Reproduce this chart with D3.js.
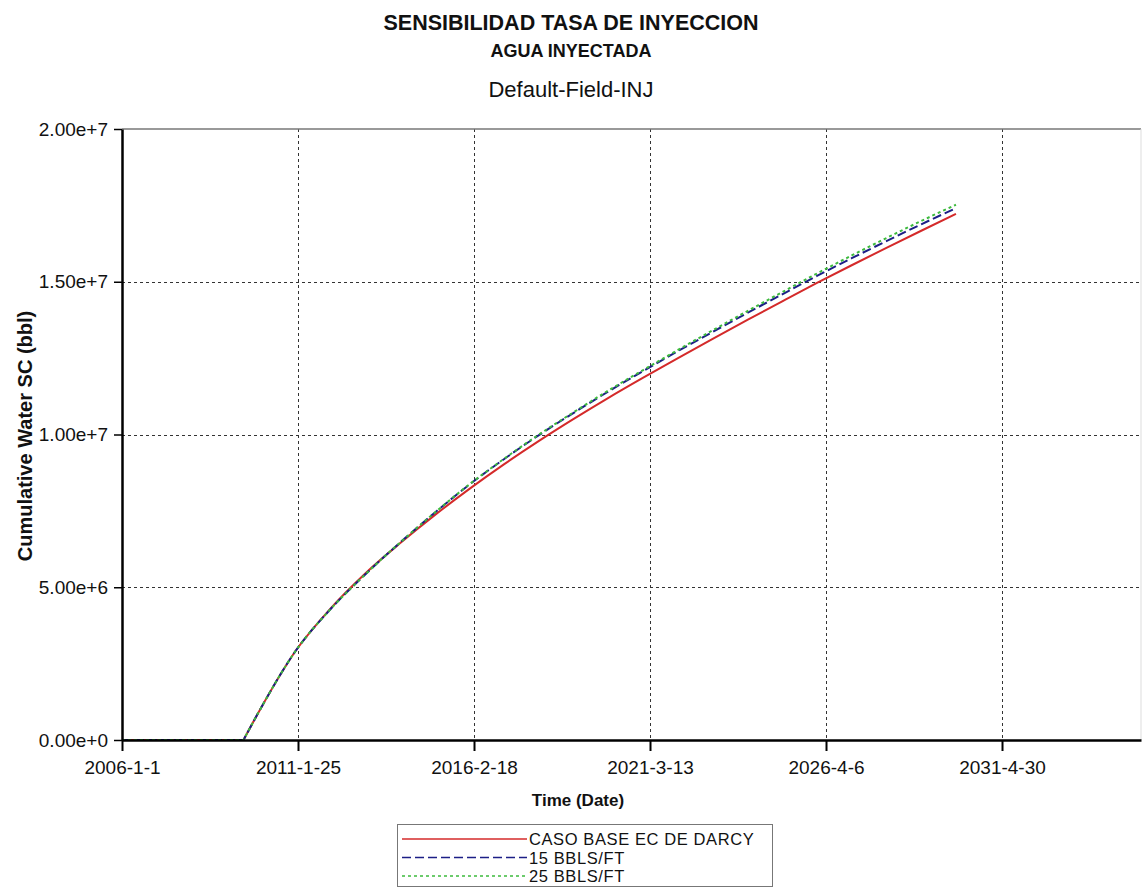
<!DOCTYPE html>
<html>
<head>
<meta charset="utf-8">
<script src="https://cdn.jsdelivr.net/npm/d3@7"></script>
<style>
  html, body { margin: 0; padding: 0; background: #fff; }
  svg { display: block; font-family: "Liberation Sans", Arial, sans-serif; }
</style>
</head>
<body>
<svg id="chart" width="1143" height="894"></svg>
<script>
// ---------- data ----------
const dates = ["2006-01-01","2009-07-01","2010-01-01","2011-01-01","2012-01-01","2013-01-01","2014-01-01",
  "2015-01-01","2016-01-01","2017-01-01","2018-01-01","2019-01-01","2020-01-01","2021-01-01","2022-01-01",
  "2023-01-01","2024-01-01","2025-01-01","2026-01-01","2027-01-01","2028-01-01","2029-01-01","2030-01-01"];
const casoBase = [0,0,1.05e6,2.92e6,4.30e6,5.45e6,6.44e6,7.36e6,8.22e6,9.03e6,9.79e6,10.51e6,11.20e6,11.86e6,
  12.50e6,13.13e6,13.75e6,14.36e6,14.96e6,15.54e6,16.11e6,16.67e6,17.22e6];
const bbls15 = [0,0,1.05e6,2.92e6,4.28e6,5.42e6,6.46e6,7.44e6,8.36e6,9.20e6,9.98e6,10.71e6,11.41e6,12.08e6,
  12.73e6,13.36e6,13.98e6,14.59e6,15.19e6,15.77e6,16.33e6,16.88e6,17.41e6];
const bbls25 = [0,0,1.05e6,2.92e6,4.28e6,5.42e6,6.46e6,7.44e6,8.37e6,9.21e6,10.00e6,10.73e6,11.44e6,12.11e6,
  12.77e6,13.41e6,14.04e6,14.66e6,15.27e6,15.86e6,16.43e6,16.99e6,17.52e6];
const seriesNames = ["CASO BASE EC DE DARCY","15 BBLS/FT","25 BBLS/FT"];
const xTickLabels = ["2006-1-1","2011-1-25","2016-2-18","2021-3-13","2026-4-6","2031-4-30"];
const yTickValues = [0, 5e6, 1e7, 1.5e7, 2e7];
const titleText = "SENSIBILIDAD TASA DE INYECCION";
const subtitleText = "AGUA INYECTADA";
const plotTitleText = "Default-Field-INJ";
const xAxisTitle = "Time (Date)";
const yAxisTitle = "Cumulative Water SC (bbl)";

// ---------- setup ----------
const parseIso = d3.timeParse("%Y-%m-%d");
const parseTick = s => { const [yy,m,d] = s.split("-").map(Number); return new Date(yy, m-1, d); };
const svg = d3.select("#chart");
const pLeft = 122, pRight = 1141, pTop = 129, pBottom = 740;

const x = d3.scaleTime().domain([new Date(2006,0,1), new Date(2035,3,30)]).range([pLeft, pRight]);
const y = d3.scaleLinear().domain([0, 2e7]).range([pBottom, pTop]);

const styles = [
  { color: "#d42a2a", dash: null },
  { color: "#1c1f86", dash: "9,4" },
  { color: "#3dba3d", dash: "3,3" }
];
const seriesValues = [casoBase, bbls15, bbls25];
const series = seriesValues.map((vals, i) => ({
  name: seriesNames[i],
  points: dates.map((d, j) => ({ date: parseIso(d), value: vals[j] })),
  style: styles[i]
}));

// ---------- titles ----------
svg.append("text").attr("x", 571).attr("y", 30).attr("text-anchor", "middle")
  .attr("font-size", 21.5).attr("font-weight", "bold").attr("fill", "#111").text(titleText);
svg.append("text").attr("x", 571).attr("y", 57).attr("text-anchor", "middle")
  .attr("font-size", 18).attr("font-weight", "bold").attr("fill", "#111").text(subtitleText);
svg.append("text").attr("x", 571).attr("y", 97).attr("text-anchor", "middle")
  .attr("font-size", 22).attr("fill", "#111").text(plotTitleText);

// ---------- grid ----------
const xTicks = xTickLabels.map(parseTick);
svg.append("g").selectAll("line").data(xTicks.slice(1)).join("line")
  .attr("x1", d => Math.round(x(d)) + 0.5).attr("x2", d => Math.round(x(d)) + 0.5)
  .attr("y1", pTop).attr("y2", pBottom)
  .attr("stroke", "#333").attr("stroke-width", 1).attr("stroke-dasharray", "3,3");
svg.append("g").selectAll("line").data(yTickValues.filter(v => v > 0 && v < 2e7)).join("line")
  .attr("x1", pLeft).attr("x2", pRight)
  .attr("y1", d => Math.round(y(d)) + 0.5).attr("y2", d => Math.round(y(d)) + 0.5)
  .attr("stroke", "#333").attr("stroke-width", 1).attr("stroke-dasharray", "3,3");

// frame (top / right)
svg.append("line").attr("x1", pLeft).attr("x2", pRight).attr("y1", pTop).attr("y2", pTop)
  .attr("stroke", "#777").attr("stroke-width", 1.5);
svg.append("line").attr("x1", pRight).attr("x2", pRight).attr("y1", pTop).attr("y2", pBottom)
  .attr("stroke", "#ddd").attr("stroke-width", 1);

// ---------- series ----------
// flat (no injection) part drawn straight, injection part as a smooth monotone curve
const flatLine = d3.line().x(d => x(d.date)).y(d => y(d.value));
const smoothLine = d3.line().x(d => x(d.date)).y(d => y(d.value)).curve(d3.curveMonotoneX);
const pathFor = pts => {
  const startIdx = pts.findIndex((p, i) => i > 0 && pts[i + 1] && pts[i + 1].value > 0);
  const flat = flatLine(pts.slice(0, startIdx + 1));
  const rise = smoothLine(pts.slice(startIdx)).replace(/^M/, "L");
  return flat + rise;
};
svg.append("g").selectAll("path").data(series).join("path")
  .attr("d", d => pathFor(d.points))
  .attr("fill", "none")
  .attr("stroke", d => d.style.color)
  .attr("stroke-width", 2)
  .attr("stroke-dasharray", d => d.style.dash);

// ---------- axes ----------
const xAxis = d3.axisBottom(x).tickValues(xTicks).tickFormat((d, i) => xTickLabels[i]).tickSize(11).tickSizeOuter(0);
const gx = svg.append("g").attr("transform", `translate(0,${pBottom})`).call(xAxis);
gx.select(".domain").attr("stroke", "#000").attr("stroke-width", 2.5);
gx.selectAll(".tick line").attr("stroke", "#000").attr("stroke-width", 2);
gx.selectAll(".tick text").attr("font-size", 19).attr("font-family", "Liberation Sans, Arial, sans-serif")
  .attr("fill", "#111").attr("dy", 0).attr("y", 34);

const yAxis = d3.axisLeft(y).tickValues(yTickValues).tickFormat(d => d.toExponential(2)).tickSize(8).tickSizeOuter(0);
const gy = svg.append("g").attr("transform", `translate(${pLeft},0)`).call(yAxis);
gy.select(".domain").attr("stroke", "#000").attr("stroke-width", 2.5);
gy.selectAll(".tick line").attr("stroke", "#000").attr("stroke-width", 1.5);
gy.selectAll(".tick text").attr("font-size", 19).attr("font-family", "Liberation Sans, Arial, sans-serif")
  .attr("fill", "#111").attr("x", -14);

// axis titles
svg.append("text").attr("x", 578).attr("y", 806).attr("text-anchor", "middle")
  .attr("font-size", 17).attr("font-weight", "bold").attr("fill", "#111").text(xAxisTitle);
svg.append("text").attr("transform", "translate(32,436) rotate(-90)").attr("text-anchor", "middle")
  .attr("font-size", 20).attr("font-weight", "bold").attr("fill", "#111").text(yAxisTitle);

// ---------- legend ----------
const lg = svg.append("g");
lg.append("rect").attr("x", 397.5).attr("y", 824.5).attr("width", 375).attr("height", 62)
  .attr("fill", "#fff").attr("stroke", "#777").attr("stroke-width", 1);
const rowY = [839, 857.5, 876];
series.forEach((s, i) => {
  lg.append("line").attr("x1", 402).attr("x2", 527).attr("y1", rowY[i]).attr("y2", rowY[i])
    .attr("stroke", s.style.color).attr("stroke-width", 1.6).attr("stroke-dasharray", s.style.dash);
  lg.append("text").attr("x", 529).attr("y", rowY[i] + 6).attr("font-size", 16.5)
    .attr("letter-spacing", 0.6).attr("fill", "#111").text(s.name);
});
</script>
</body>
</html>
